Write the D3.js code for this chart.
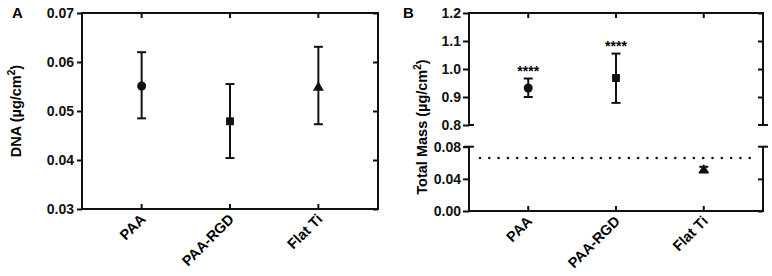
<!DOCTYPE html>
<html><head><meta charset="utf-8">
<script src="https://cdn.jsdelivr.net/npm/d3@7"></script>
<style>body{margin:0;background:#fff}svg{display:block}text{font-family:"Liberation Sans",Arial,sans-serif;}</style>
</head><body><svg id="c" width="772" height="276"></svg>
<script>
const categories = ["PAA", "PAA-RGD", "Flat Ti"];
const markers = ["circle", "square", "triangle"];
// Panel A: DNA
const dnaMean = [0.0551, 0.0479, 0.0550];
const dnaLow = [0.0485, 0.0404, 0.0473];
const dnaHigh = [0.0620, 0.0555, 0.0631];
const dnaTicks = [0.03, 0.04, 0.05, 0.06, 0.07];
// Panel B: Total mass
const massMean = [0.932, 0.968, 0.052];
const massLow = [0.900, 0.879, 0.048];
const massHigh = [0.966, 1.055, 0.055];
const massUpperTicks = [0.8, 0.9, 1.0, 1.1, 1.2];
const massLowerTicks = [0.00, 0.04, 0.08];
const significance = ["****", "****", ""];
const threshold = 0.066;

const svg = d3.select("#c");
const black = "#111";

function symbolPath(type) {
  const t = type === "circle" ? d3.symbolCircle : type === "square" ? d3.symbolSquare : d3.symbolTriangle;
  const size = type === "circle" ? 64 : type === "square" ? 62 : 52;
  return d3.symbol().type(t).size(size)();
}

function drawPoints(g, x, yFn, mean, low, high) {
  categories.forEach((c, i) => {
    const cx = x(i);
    const yl = yFn(low[i]), yh = yFn(high[i]), ym = yFn(mean[i]);
    g.append("line").attr("x1", cx).attr("x2", cx).attr("y1", yl).attr("y2", yh)
      .attr("stroke", black).attr("stroke-width", 2);
    [yl, yh].forEach(yy => g.append("line").attr("x1", cx - 4.5).attr("x2", cx + 4.5)
      .attr("y1", yy).attr("y2", yy).attr("stroke", black).attr("stroke-width", 2));
    g.append("path").attr("d", symbolPath(markers[i]))
      .attr("transform", `translate(${cx},${ym + (markers[i] === "triangle" ? 1 : 0)})`).attr("fill", black);
  });
}

function catLabels(g, x, yBase) {
  categories.forEach((c, i) => {
    g.append("text").attr("transform", `translate(${x(i) + 5},${yBase + 11}) rotate(-45)`)
      .attr("text-anchor", "end").attr("font-weight", "bold").attr("font-size", 14.5).text(c);
  });
}

function frameTicks(g, x, yTop, yBot) {
  categories.forEach((c, i) => {
    g.append("line").attr("x1", x(i)).attr("x2", x(i)).attr("y1", yTop).attr("y2", yTop + 5).attr("stroke", black).attr("stroke-width", 2);
    g.append("line").attr("x1", x(i)).attr("x2", x(i)).attr("y1", yBot).attr("y2", yBot - 5).attr("stroke", black).attr("stroke-width", 2);
  });
}

const styleAxis = a => {
  a.select(".domain").remove();
  a.selectAll("line").attr("stroke", black).attr("stroke-width", 2);
  a.selectAll("text").attr("font-size", 14).attr("font-weight", "bold").attr("fill", black).attr("font-family", "Liberation Sans, Arial, sans-serif");
};

// ---------- Panel A ----------
{
  const L = 82, R = 378, T = 13, B = 209;
  const x = d3.scaleLinear().domain([-0.675, 2.675]).range([L, R]);
  const y = d3.scaleLinear().domain([0.03, 0.07]).range([B, T]);
  const g = svg.append("g");
  g.append("rect").attr("x", L).attr("y", T).attr("width", R - L).attr("height", B - T)
    .attr("fill", "none").attr("stroke", black).attr("stroke-width", 2);
  styleAxis(g.append("g").attr("transform", `translate(${L},0)`)
    .call(d3.axisLeft(y).tickValues(dnaTicks).tickFormat(d3.format(".2f")).tickSize(5).tickPadding(3)));
  styleAxis(g.append("g").attr("transform", `translate(${R},0)`)
    .call(d3.axisLeft(y).tickValues(dnaTicks).tickFormat("").tickSize(5)));
  frameTicks(g, x, T, B);
  drawPoints(g, x, y, dnaMean, dnaLow, dnaHigh);
  catLabels(g, x, B);
  g.append("text").attr("transform", `translate(21,111) rotate(-90)`).attr("text-anchor", "middle")
    .attr("font-weight", "bold").attr("font-size", 14.5)
    .html('DNA (µg/cm<tspan dy="-6" font-size="10">2</tspan><tspan dy="6">)</tspan>');
  g.append("text").attr("x", 12).attr("y", 18).attr("font-weight", "bold").attr("font-size", 15).text("A");
}

// ---------- Panel B ----------
{
  const L = 469, R = 763, T = 13, Bu = 125, Tl = 146.7, B = 211;
  const x = d3.scaleLinear().domain([-0.675, 2.675]).range([L, R]);
  const yU = d3.scaleLinear().domain([0.8, 1.2]).range([Bu, T]);
  const yL = d3.scaleLinear().domain([0, 0.08]).range([B, Tl]);
  const yFn = v => v >= 0.5 ? yU(v) : yL(v);
  const g = svg.append("g");
  const ln = (x1, y1, x2, y2) => g.append("line").attr("x1", x1).attr("y1", y1).attr("x2", x2).attr("y2", y2)
    .attr("stroke", black).attr("stroke-width", 2);
  ln(L - 1, T, R + 1, T);
  ln(L - 1, B, R + 1, B);
  ln(L, T, L, Bu); ln(L, Tl, L, B);
  ln(R, T, R, Bu); ln(R, Tl, R, B);
  ln(L - 1, Bu, L + 5, Bu); ln(L - 5, Tl, L + 5, Tl);
  ln(R - 5, Bu, R + 5, Bu); ln(R - 5, Tl, R + 5, Tl);
  styleAxis(g.append("g").attr("transform", `translate(${L},0)`)
    .call(d3.axisLeft(yU).tickValues(massUpperTicks).tickFormat(d3.format(".1f")).tickSize(6).tickPadding(2)));
  styleAxis(g.append("g").attr("transform", `translate(${L},0)`)
    .call(d3.axisLeft(yL).tickValues(massLowerTicks).tickFormat(d3.format(".2f")).tickSize(6).tickPadding(2)));
  styleAxis(g.append("g").attr("transform", `translate(${R},0)`)
    .call(d3.axisLeft(yU).tickValues(massUpperTicks.slice(1)).tickFormat("").tickSize(5)));
  styleAxis(g.append("g").attr("transform", `translate(${R},0)`)
    .call(d3.axisLeft(yL).tickValues(massLowerTicks.slice(0, 2)).tickFormat("").tickSize(5)));
  frameTicks(g, x, T, B);
  g.append("line").attr("x1", L + 11).attr("x2", R - 4).attr("y1", yL(threshold)).attr("y2", yL(threshold))
    .attr("stroke", black).attr("stroke-width", 2.6).attr("stroke-linecap", "round").attr("stroke-dasharray", "0,9.3");
  drawPoints(g, x, yFn, massMean, massLow, massHigh);
  significance.forEach((s, i) => {
    if (!s) return;
    g.append("text").attr("x", x(i)).attr("y", yFn(massHigh[i]) - 3).attr("text-anchor", "middle")
      .attr("font-size", 14).attr("font-weight", "bold").text(s);
  });
  catLabels(g, x, B);
  g.append("text").attr("transform", `translate(427,127) rotate(-90)`).attr("text-anchor", "middle")
    .attr("font-weight", "bold").attr("font-size", 14.5)
    .html('Total Mass (µg/cm<tspan dy="-6" font-size="10">2</tspan><tspan dy="6">)</tspan>');
  g.append("text").attr("x", 403).attr("y", 18).attr("font-weight", "bold").attr("font-size", 15).text("B");
}
</script></body></html>
